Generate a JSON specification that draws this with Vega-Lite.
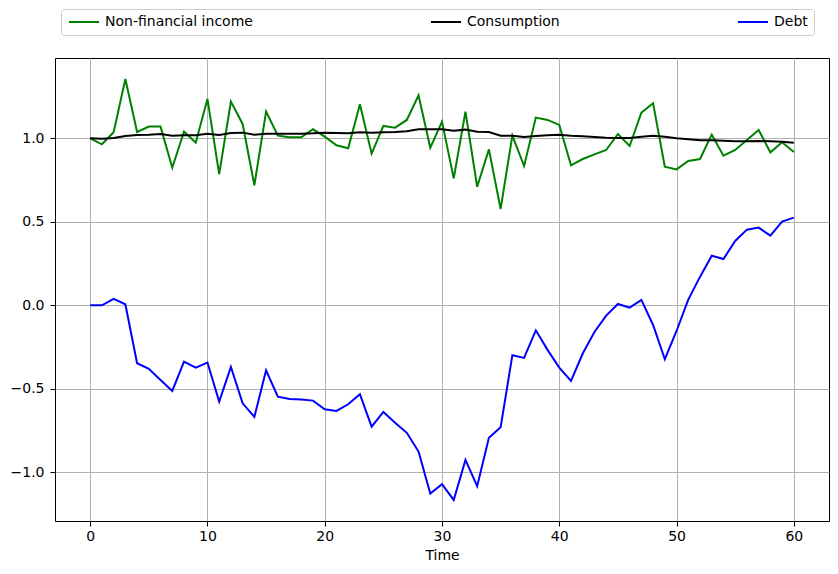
{
  "$schema": "https://vega.github.io/schema/vega-lite/v6.json",
  "width": 774,
  "height": 463,
  "autosize": {"type": "none"},
  "padding": {"left": 55, "top": 58, "right": 9, "bottom": 53},
  "background": "white",
  "config": {
    "font": "DejaVu Sans",
    "view": {"stroke": "#000000", "strokeWidth": 1},
    "axis": {
      "labelFont": "DejaVu Sans",
      "titleFont": "DejaVu Sans",
      "labelFontSize": 14,
      "titleFontSize": 14,
      "labelColor": "#000000",
      "titleColor": "#000000",
      "titleFontWeight": "normal",
      "domain": false,
      "tickColor": "#000000",
      "tickSize": 5,
      "tickWidth": 1,
      "gridColor": "#b0b0b0",
      "gridWidth": 1,
      "gridOpacity": 1
    }
  },
  "data": {
    "values": [
      {"t":0,"series":"Non-financial income","value":1.0},
      {"t":1,"series":"Non-financial income","value":0.964},
      {"t":2,"series":"Non-financial income","value":1.036},
      {"t":3,"series":"Non-financial income","value":1.355},
      {"t":4,"series":"Non-financial income","value":1.038},
      {"t":5,"series":"Non-financial income","value":1.07},
      {"t":6,"series":"Non-financial income","value":1.07},
      {"t":7,"series":"Non-financial income","value":0.824},
      {"t":8,"series":"Non-financial income","value":1.04},
      {"t":9,"series":"Non-financial income","value":0.974},
      {"t":10,"series":"Non-financial income","value":1.236},
      {"t":11,"series":"Non-financial income","value":0.786},
      {"t":12,"series":"Non-financial income","value":1.22},
      {"t":13,"series":"Non-financial income","value":1.086},
      {"t":14,"series":"Non-financial income","value":0.719},
      {"t":15,"series":"Non-financial income","value":1.16},
      {"t":16,"series":"Non-financial income","value":1.016},
      {"t":17,"series":"Non-financial income","value":1.006},
      {"t":18,"series":"Non-financial income","value":1.006},
      {"t":19,"series":"Non-financial income","value":1.054},
      {"t":20,"series":"Non-financial income","value":1.01},
      {"t":21,"series":"Non-financial income","value":0.958},
      {"t":22,"series":"Non-financial income","value":0.94},
      {"t":23,"series":"Non-financial income","value":1.204},
      {"t":24,"series":"Non-financial income","value":0.908},
      {"t":25,"series":"Non-financial income","value":1.074},
      {"t":26,"series":"Non-financial income","value":1.064},
      {"t":27,"series":"Non-financial income","value":1.11},
      {"t":28,"series":"Non-financial income","value":1.257},
      {"t":29,"series":"Non-financial income","value":0.943},
      {"t":30,"series":"Non-financial income","value":1.10},
      {"t":31,"series":"Non-financial income","value":0.76},
      {"t":32,"series":"Non-financial income","value":1.16},
      {"t":33,"series":"Non-financial income","value":0.71},
      {"t":34,"series":"Non-financial income","value":0.934},
      {"t":35,"series":"Non-financial income","value":0.577},
      {"t":36,"series":"Non-financial income","value":1.016},
      {"t":37,"series":"Non-financial income","value":0.834},
      {"t":38,"series":"Non-financial income","value":1.124},
      {"t":39,"series":"Non-financial income","value":1.11},
      {"t":40,"series":"Non-financial income","value":1.08},
      {"t":41,"series":"Non-financial income","value":0.838},
      {"t":42,"series":"Non-financial income","value":0.876},
      {"t":43,"series":"Non-financial income","value":0.904},
      {"t":44,"series":"Non-financial income","value":0.93},
      {"t":45,"series":"Non-financial income","value":1.026},
      {"t":46,"series":"Non-financial income","value":0.954},
      {"t":47,"series":"Non-financial income","value":1.154},
      {"t":48,"series":"Non-financial income","value":1.21},
      {"t":49,"series":"Non-financial income","value":0.83},
      {"t":50,"series":"Non-financial income","value":0.814},
      {"t":51,"series":"Non-financial income","value":0.864},
      {"t":52,"series":"Non-financial income","value":0.876},
      {"t":53,"series":"Non-financial income","value":1.022},
      {"t":54,"series":"Non-financial income","value":0.896},
      {"t":55,"series":"Non-financial income","value":0.93},
      {"t":56,"series":"Non-financial income","value":0.99},
      {"t":57,"series":"Non-financial income","value":1.05},
      {"t":58,"series":"Non-financial income","value":0.916},
      {"t":59,"series":"Non-financial income","value":0.976},
      {"t":60,"series":"Non-financial income","value":0.918},
      {"t":0,"series":"Consumption","value":1.0},
      {"t":1,"series":"Consumption","value":0.998},
      {"t":2,"series":"Consumption","value":1.002},
      {"t":3,"series":"Consumption","value":1.014},
      {"t":4,"series":"Consumption","value":1.02},
      {"t":5,"series":"Consumption","value":1.022},
      {"t":6,"series":"Consumption","value":1.026},
      {"t":7,"series":"Consumption","value":1.016},
      {"t":8,"series":"Consumption","value":1.018},
      {"t":9,"series":"Consumption","value":1.018},
      {"t":10,"series":"Consumption","value":1.028},
      {"t":11,"series":"Consumption","value":1.02},
      {"t":12,"series":"Consumption","value":1.032},
      {"t":13,"series":"Consumption","value":1.034},
      {"t":14,"series":"Consumption","value":1.022},
      {"t":15,"series":"Consumption","value":1.028},
      {"t":16,"series":"Consumption","value":1.028},
      {"t":17,"series":"Consumption","value":1.028},
      {"t":18,"series":"Consumption","value":1.028},
      {"t":19,"series":"Consumption","value":1.03},
      {"t":20,"series":"Consumption","value":1.034},
      {"t":21,"series":"Consumption","value":1.032},
      {"t":22,"series":"Consumption","value":1.03},
      {"t":23,"series":"Consumption","value":1.036},
      {"t":24,"series":"Consumption","value":1.034},
      {"t":25,"series":"Consumption","value":1.036},
      {"t":26,"series":"Consumption","value":1.038},
      {"t":27,"series":"Consumption","value":1.042},
      {"t":28,"series":"Consumption","value":1.054},
      {"t":29,"series":"Consumption","value":1.054},
      {"t":30,"series":"Consumption","value":1.054},
      {"t":31,"series":"Consumption","value":1.046},
      {"t":32,"series":"Consumption","value":1.052},
      {"t":33,"series":"Consumption","value":1.04},
      {"t":34,"series":"Consumption","value":1.038},
      {"t":35,"series":"Consumption","value":1.016},
      {"t":36,"series":"Consumption","value":1.016},
      {"t":37,"series":"Consumption","value":1.008},
      {"t":38,"series":"Consumption","value":1.014},
      {"t":39,"series":"Consumption","value":1.018},
      {"t":40,"series":"Consumption","value":1.022},
      {"t":41,"series":"Consumption","value":1.016},
      {"t":42,"series":"Consumption","value":1.012},
      {"t":43,"series":"Consumption","value":1.008},
      {"t":44,"series":"Consumption","value":1.004},
      {"t":45,"series":"Consumption","value":1.002},
      {"t":46,"series":"Consumption","value":1.002},
      {"t":47,"series":"Consumption","value":1.01},
      {"t":48,"series":"Consumption","value":1.016},
      {"t":49,"series":"Consumption","value":1.01},
      {"t":50,"series":"Consumption","value":1.0},
      {"t":51,"series":"Consumption","value":0.994},
      {"t":52,"series":"Consumption","value":0.988},
      {"t":53,"series":"Consumption","value":0.988},
      {"t":54,"series":"Consumption","value":0.986},
      {"t":55,"series":"Consumption","value":0.982},
      {"t":56,"series":"Consumption","value":0.982},
      {"t":57,"series":"Consumption","value":0.984},
      {"t":58,"series":"Consumption","value":0.982},
      {"t":59,"series":"Consumption","value":0.98},
      {"t":60,"series":"Consumption","value":0.974},
      {"t":0,"series":"Debt","value":0.0},
      {"t":1,"series":"Debt","value":0.0},
      {"t":2,"series":"Debt","value":0.038},
      {"t":3,"series":"Debt","value":0.006},
      {"t":4,"series":"Debt","value":-0.347},
      {"t":5,"series":"Debt","value":-0.381},
      {"t":6,"series":"Debt","value":-0.447},
      {"t":7,"series":"Debt","value":-0.513},
      {"t":8,"series":"Debt","value":-0.337},
      {"t":9,"series":"Debt","value":-0.373},
      {"t":10,"series":"Debt","value":-0.343},
      {"t":11,"series":"Debt","value":-0.577},
      {"t":12,"series":"Debt","value":-0.369},
      {"t":13,"series":"Debt","value":-0.587},
      {"t":14,"series":"Debt","value":-0.669},
      {"t":15,"series":"Debt","value":-0.389},
      {"t":16,"series":"Debt","value":-0.547},
      {"t":17,"series":"Debt","value":-0.561},
      {"t":18,"series":"Debt","value":-0.565},
      {"t":19,"series":"Debt","value":-0.571},
      {"t":20,"series":"Debt","value":-0.623},
      {"t":21,"series":"Debt","value":-0.633},
      {"t":22,"series":"Debt","value":-0.593},
      {"t":23,"series":"Debt","value":-0.533},
      {"t":24,"series":"Debt","value":-0.727},
      {"t":25,"series":"Debt","value":-0.639},
      {"t":26,"series":"Debt","value":-0.703},
      {"t":27,"series":"Debt","value":-0.764},
      {"t":28,"series":"Debt","value":-0.876},
      {"t":29,"series":"Debt","value":-1.128},
      {"t":30,"series":"Debt","value":-1.072},
      {"t":31,"series":"Debt","value":-1.166},
      {"t":32,"series":"Debt","value":-0.926},
      {"t":33,"series":"Debt","value":-1.084},
      {"t":34,"series":"Debt","value":-0.794},
      {"t":35,"series":"Debt","value":-0.73},
      {"t":36,"series":"Debt","value":-0.299},
      {"t":37,"series":"Debt","value":-0.315},
      {"t":38,"series":"Debt","value":-0.15},
      {"t":39,"series":"Debt","value":-0.267},
      {"t":40,"series":"Debt","value":-0.373},
      {"t":41,"series":"Debt","value":-0.453},
      {"t":42,"series":"Debt","value":-0.289},
      {"t":43,"series":"Debt","value":-0.16},
      {"t":44,"series":"Debt","value":-0.062},
      {"t":45,"series":"Debt","value":0.008},
      {"t":46,"series":"Debt","value":-0.014},
      {"t":47,"series":"Debt","value":0.032},
      {"t":48,"series":"Debt","value":-0.118},
      {"t":49,"series":"Debt","value":-0.323},
      {"t":50,"series":"Debt","value":-0.154},
      {"t":51,"series":"Debt","value":0.034},
      {"t":52,"series":"Debt","value":0.17},
      {"t":53,"series":"Debt","value":0.297},
      {"t":54,"series":"Debt","value":0.277},
      {"t":55,"series":"Debt","value":0.385},
      {"t":56,"series":"Debt","value":0.453},
      {"t":57,"series":"Debt","value":0.465},
      {"t":58,"series":"Debt","value":0.417},
      {"t":59,"series":"Debt","value":0.501},
      {"t":60,"series":"Debt","value":0.525}
    ]
  },
  "mark": {"type": "line", "strokeWidth": 2, "clip": true},
  "encoding": {
    "x": {
      "field": "t",
      "type": "quantitative",
      "title": "Time",
      "scale": {"domain": [-3, 63], "nice": false, "zero": false},
      "axis": {"values": [0, 10, 20, 30, 40, 50, 60], "labelPadding": 3, "titlePadding": 5}
    },
    "y": {
      "field": "value",
      "type": "quantitative",
      "title": null,
      "scale": {"domain": [-1.292, 1.481], "nice": false, "zero": false},
      "axis": {"values": [-1.0, -0.5, 0.0, 0.5, 1.0], "format": ".1f", "labelPadding": 6}
    },
    "color": {
      "field": "series",
      "type": "nominal",
      "scale": {
        "domain": ["Non-financial income", "Consumption", "Debt"],
        "range": ["#008000", "#000000", "#0000ff"]
      },
      "legend": {
        "title": null,
        "orient": "none",
        "legendX": 6,
        "legendY": -49,
        "direction": "horizontal",
        "columns": 3,
        "columnPadding": 174,
        "symbolType": "M-3,0H3",
        "symbolSize": 100,
        "symbolOffset": 10,
        "symbolStrokeWidth": 2,
        "labelFont": "DejaVu Sans",
        "labelFontSize": 14,
        "labelColor": "#000000",
        "labelOffset": 14,
        "padding": 6,
        "strokeColor": "#cccccc",
        "fillColor": "#ffffff",
        "cornerRadius": 3
      }
    }
  }
}
